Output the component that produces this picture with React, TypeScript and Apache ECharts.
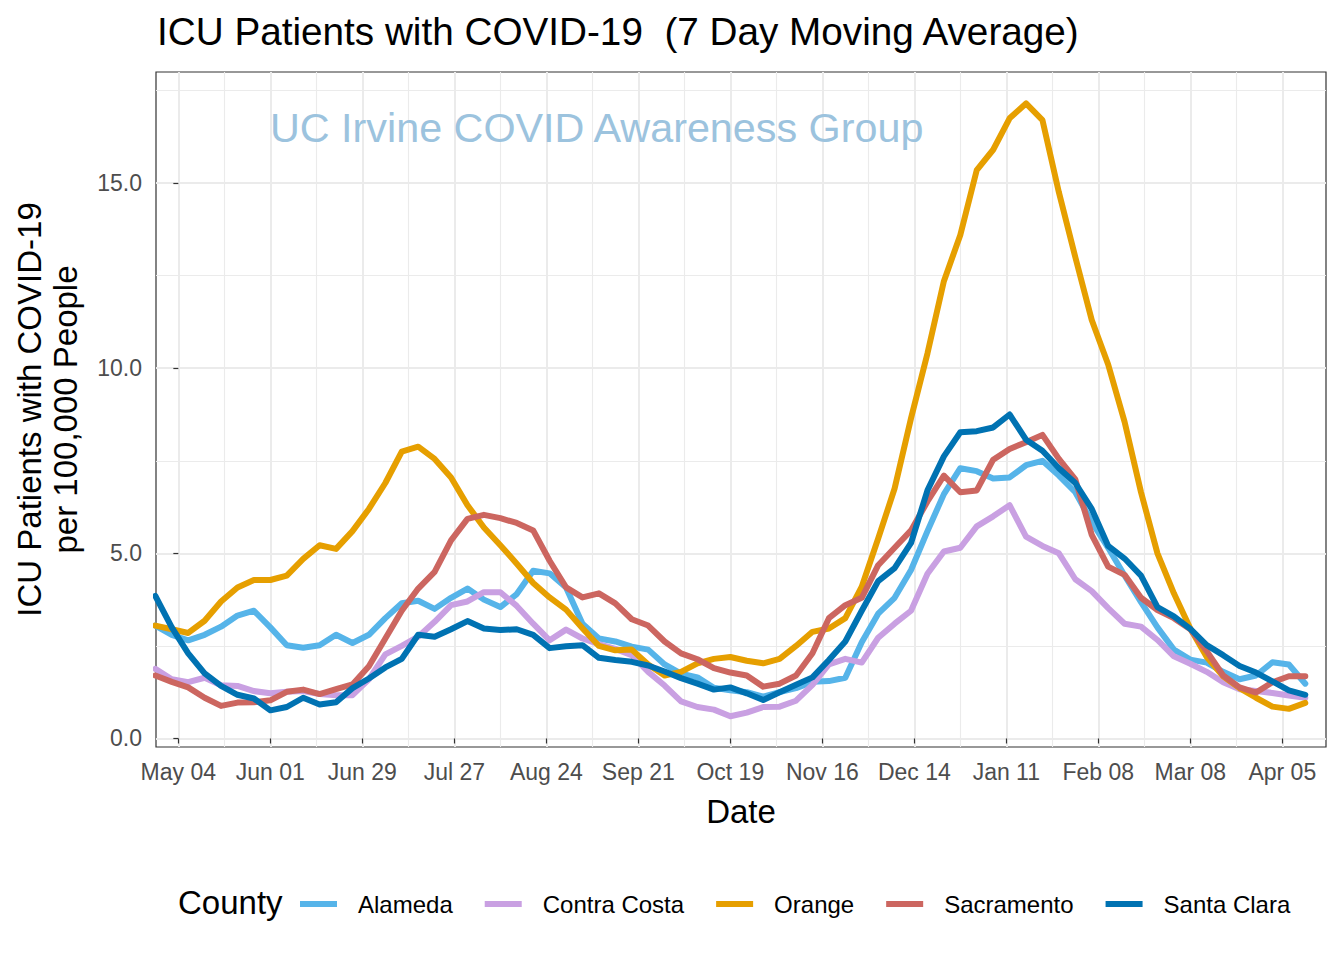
import React, { useEffect, useRef } from 'react';
import * as echarts from 'echarts';

const FONT = '"Liberation Sans", Arial, Helvetica, sans-serif';
const TITLE = 'ICU Patients with COVID-19  (7 Day Moving Average)';
const WATERMARK = 'UC Irvine COVID Awareness Group';

// sampling of the 7-day moving average: first sample 2020-04-27, one sample every 5 days
const START_DATE_UTC = Date.UTC(2020, 3, 27);
const STEP_DAYS = 5;
const AXIS_ORIGIN_UTC = Date.UTC(2020, 4, 4); // May 04, 2020 = day 0 on the x axis

const counties = ['Alameda', 'Contra Costa', 'Orange', 'Sacramento', 'Santa Clara'];
const countyColors = ['#56B4E9', '#C9A0E2', '#E69F00', '#CC6660', '#0072B2'];

const alameda = [
  3.05, 2.80, 2.65, 2.80, 3.02, 3.32, 3.45, 3.00, 2.52, 2.45,
  2.52, 2.80, 2.58, 2.80, 3.25, 3.65, 3.72, 3.50, 3.80, 4.05,
  3.75, 3.55, 3.90, 4.53, 4.46, 4.08, 3.10, 2.70, 2.62, 2.48,
  2.40, 2.00, 1.75, 1.65, 1.37, 1.30, 1.25, 1.13, 1.25, 1.36,
  1.53, 1.55, 1.64, 2.60, 3.37, 3.80, 4.55, 5.60, 6.60, 7.30,
  7.22, 7.02, 7.05, 7.38, 7.50, 7.10, 6.65, 5.85, 5.15, 4.40,
  3.68, 3.00, 2.40, 2.13, 2.05, 1.80, 1.60, 1.70, 2.06, 2.00,
  1.48,
];

const contraCosta = [
  1.88, 1.60, 1.52, 1.64, 1.44, 1.42, 1.28, 1.22, 1.26, 1.28,
  1.20, 1.17, 1.17, 1.60, 2.27, 2.50, 2.75, 3.15, 3.60, 3.70,
  3.95, 3.95, 3.58, 3.10, 2.65, 2.94, 2.70, 2.55, 2.42, 2.25,
  1.80, 1.43, 1.00, 0.85, 0.78, 0.60, 0.70, 0.85, 0.86, 1.02,
  1.45, 2.00, 2.15, 2.05, 2.72, 3.10, 3.45, 4.45, 5.05, 5.15,
  5.73, 6.00, 6.30, 5.45, 5.20, 5.00, 4.30, 3.98, 3.52, 3.10,
  3.02, 2.66, 2.22, 2.02, 1.80, 1.52, 1.33, 1.28, 1.23, 1.16,
  1.10,
];

const orange = [
  3.05, 2.95, 2.85, 3.18, 3.70, 4.08, 4.28, 4.28, 4.40, 4.85,
  5.22, 5.12, 5.60, 6.20, 6.90, 7.75, 7.88, 7.55, 7.05, 6.30,
  5.70, 5.22, 4.72, 4.20, 3.81, 3.48, 2.98, 2.50, 2.38, 2.40,
  2.00, 1.70, 1.80, 2.03, 2.15, 2.20, 2.10, 2.03, 2.15, 2.50,
  2.88, 2.97, 3.25, 4.10, 5.40, 6.75, 8.65, 10.40, 12.35, 13.60,
  15.35, 15.90, 16.75, 17.15, 16.70, 14.75, 13.00, 11.30, 10.10, 8.55,
  6.65, 5.00, 3.92, 2.97, 2.20, 1.68, 1.36, 1.10, 0.86, 0.80,
  0.96,
];

const sacramento = [
  1.70, 1.53, 1.38, 1.10, 0.88, 0.97, 0.98, 1.03, 1.26, 1.32,
  1.20, 1.33, 1.46, 1.95, 2.70, 3.45, 4.05, 4.50, 5.35, 5.93,
  6.04, 5.95, 5.82, 5.62, 4.80, 4.08, 3.81, 3.92, 3.65, 3.22,
  3.05, 2.62, 2.30, 2.14, 1.90, 1.78, 1.70, 1.40, 1.48, 1.70,
  2.30, 3.25, 3.60, 3.80, 4.68, 5.15, 5.62, 6.40, 7.10, 6.65,
  6.70, 7.53, 7.82, 8.00, 8.20, 7.55, 7.00, 5.50, 4.64, 4.42,
  3.80, 3.47, 3.25, 2.95, 2.36, 1.70, 1.38, 1.24, 1.52, 1.68,
  1.68,
];

const santaClara = [
  3.85, 3.00, 2.30, 1.76, 1.42, 1.18, 1.08, 0.76, 0.85, 1.10,
  0.92, 0.98, 1.36, 1.62, 1.92, 2.15, 2.80, 2.75, 2.95, 3.17,
  2.97, 2.93, 2.95, 2.80, 2.44, 2.49, 2.52, 2.18, 2.12, 2.07,
  1.97, 1.81, 1.63, 1.48, 1.32, 1.38, 1.22, 1.04, 1.25, 1.45,
  1.65, 2.12, 2.62, 3.45, 4.25, 4.60, 5.28, 6.70, 7.62, 8.27,
  8.30, 8.40, 8.75, 8.07, 7.77, 7.30, 6.90, 6.20, 5.20, 4.86,
  4.40, 3.55, 3.30, 2.96, 2.52, 2.25, 1.96, 1.78, 1.54, 1.30,
  1.18,
];

const seriesValues = [alameda, contraCosta, orange, sacramento, santaClara];

// axis ticks (days after May 04, 2020) and y ticks
const xTickDays = [0, 28, 56, 84, 112, 140, 168, 196, 224, 252, 280, 308, 336];
const xMinorDays = [14, 42, 70, 98, 126, 154, 182, 210, 238, 266, 294, 322];
const yTicks = [0, 5, 10, 15];
const yMinorTicks = [2.5, 7.5, 12.5, 17.5];

const X_MIN = -6.8;
const X_MAX = 349.3;
const Y_MIN = -0.23;
const Y_MAX = 18.0;

const MS_DAY = 86400000;
const MONTHS = ['Jan', 'Feb', 'Mar', 'Apr', 'May', 'Jun', 'Jul', 'Aug', 'Sep', 'Oct', 'Nov', 'Dec'];

function dayLabel(d: number): string {
  const dt = new Date(AXIS_ORIGIN_UTC + Math.round(d) * MS_DAY);
  return MONTHS[dt.getUTCMonth()] + ' ' + String(dt.getUTCDate()).padStart(2, '0');
}

function sampleDay(i: number): number {
  return (START_DATE_UTC + i * STEP_DAYS * MS_DAY - AXIS_ORIGIN_UTC) / MS_DAY;
}

export default function App() {
  const ref = useRef<HTMLDivElement>(null);

  useEffect(() => {
    if (!ref.current) return;
    const chart = echarts.init(ref.current, undefined, { renderer: 'svg' });

    const gridLine = (w: number) => ({ show: true, lineStyle: { color: '#EBEBEB', width: w } });

    const option: any = {
      animation: false,
      backgroundColor: '#ffffff',
      textStyle: { fontFamily: FONT },
      title: {
        text: TITLE,
        left: 152,
        top: 7,
        textStyle: { fontSize: 38.7, fontWeight: 'normal', color: '#000000', fontFamily: FONT },
      },
      grid: {
        left: 156,
        right: 18,
        top: 72,
        bottom: 213,
        show: true,
        borderColor: '#333333',
        borderWidth: 1.2,
        backgroundColor: 'transparent',
        containLabel: false,
      },
      xAxis: [
        {
          type: 'value',
          min: X_MIN,
          max: X_MAX,
          position: 'bottom',
          axisLine: { show: false },
          axisTick: { show: true, customValues: xTickDays, length: 5, lineStyle: { color: '#333333', width: 1.2 } },
          axisLabel: {
            customValues: xTickDays,
            formatter: (v: number) => dayLabel(v),
            color: '#4D4D4D',
            fontSize: 23,
            margin: 13,
            fontFamily: FONT,
          },
          splitLine: gridLine(2),
          name: 'Date',
          nameLocation: 'middle',
          nameGap: 48,
          nameTextStyle: { fontSize: 33, color: '#000000', fontFamily: FONT },
        },
        {
          type: 'value',
          min: X_MIN,
          max: X_MAX,
          position: 'bottom',
          axisLine: { show: false },
          axisTick: { show: false, customValues: xMinorDays },
          axisLabel: { show: false },
          splitLine: gridLine(1.1),
        },
      ],
      yAxis: [
        {
          type: 'value',
          min: Y_MIN,
          max: Y_MAX,
          axisLine: { show: false },
          axisTick: { show: true, customValues: yTicks, length: 5, lineStyle: { color: '#333333', width: 1.2 } },
          axisLabel: {
            customValues: yTicks,
            formatter: (v: number) => v.toFixed(1),
            color: '#4D4D4D',
            fontSize: 23,
            margin: 14,
            fontFamily: FONT,
          },
          splitLine: gridLine(2),
          name: 'ICU Patients with COVID-19\nper 100,000 People',
          nameLocation: 'middle',
          nameRotate: 90,
          nameGap: 73,
          nameTextStyle: { fontSize: 33, lineHeight: 36, color: '#000000', fontFamily: FONT, align: 'center' },
        },
        {
          type: 'value',
          min: Y_MIN,
          max: Y_MAX,
          axisLine: { show: false },
          axisTick: { show: false, customValues: yMinorTicks },
          axisLabel: { show: false },
          splitLine: gridLine(1.1),
        },
      ],
      legend: {
        data: counties,
        left: 295,
        top: 887,
        icon: 'rect',
        itemWidth: 37,
        itemHeight: 6,
        itemGap: 32,
        textStyle: { fontSize: 24, color: '#000000', fontFamily: FONT, padding: [0, 0, 0, 16] },
      },
      graphic: [
        {
          type: 'text',
          left: 270,
          top: 107,
          z: 1,
          silent: true,
          style: { text: WATERMARK, fontSize: 41.3, fill: '#9CC3DE', fontFamily: FONT },
        },
        {
          type: 'text',
          left: 178,
          top: 886,
          silent: true,
          style: { text: 'County', fontSize: 33, fill: '#000000', fontFamily: FONT },
        },
      ],
      series: counties.map((name, k) => ({
        name,
        type: 'line',
        xAxisIndex: 0,
        yAxisIndex: 0,
        showSymbol: false,
        symbol: 'none',
        clip: true,
        silent: true,
        z: 3 + k,
        color: countyColors[k],
        lineStyle: { color: countyColors[k], width: 6, join: 'round', cap: 'round' },
        data: seriesValues[k].map((v, i) => [sampleDay(i), v]),
      })),
    };

    chart.setOption(option);
    return () => chart.dispose();
  }, []);

  return (
    <div
      ref={ref}
      style={{ position: 'fixed', left: 0, top: 0, width: 1344, height: 960, background: '#ffffff' }}
    />
  );
}
